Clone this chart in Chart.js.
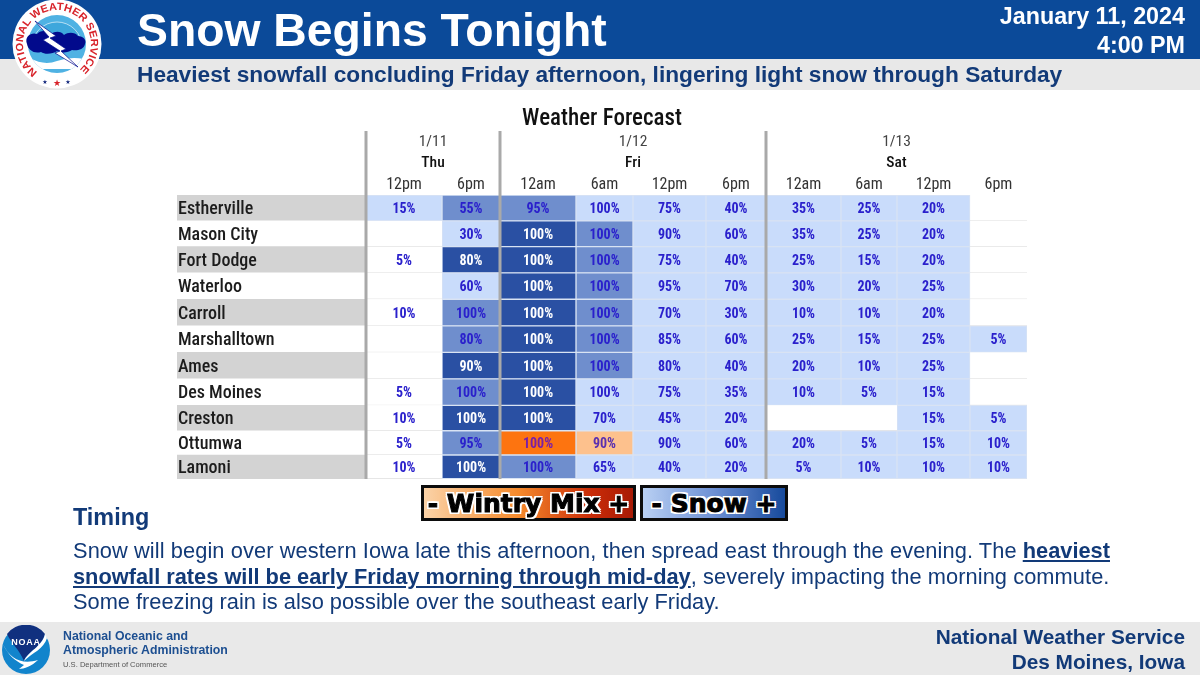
<!DOCTYPE html>
<html><head><meta charset="utf-8">
<script src="https://cdn.jsdelivr.net/npm/chart.js@4"></script>
<style>
html,body{margin:0;padding:0;background:#fff;width:1200px;height:675px;overflow:hidden;font-family:"Liberation Sans",Arial,sans-serif}
.abs{position:absolute;white-space:nowrap}
#hdr{left:0;top:0;width:1200px;height:59px;background:#0b4a99}
#sub{left:0;top:59px;width:1200px;height:31px;background:#e8e8e8}
#ftr{left:0;top:622px;width:1200px;height:53px;background:#e9e9e9}
canvas{position:absolute;left:0;top:0}
.navy{color:#123a78}
.legend{top:485px;height:30px;border:3px solid #0c0c0c;display:flex;align-items:center;justify-content:center;font:700 25px "DejaVu Sans",sans-serif;color:#000;-webkit-text-stroke:1px #000;text-shadow:2px 0 #fff,-2px 0 #fff,0 2px #fff,0 -2px #fff,2px 2px #fff,-2px -2px #fff,2px -2px #fff,-2px 2px #fff;box-sizing:content-box}
</style></head>
<body>
<div class="abs" id="hdr"></div><div class="abs" id="sub"></div><div class="abs" id="ftr"></div>
<canvas id="c" width="1200" height="675"></canvas>

<div class="abs" style="left:137px;top:1px;font-size:46.3px;line-height:58px;font-weight:700;color:#fff">Snow Begins Tonight</div>
<div class="abs navy" style="left:137px;top:60px;font-size:22.7px;line-height:28px;font-weight:700">Heaviest snowfall concluding Friday afternoon, lingering light snow through Saturday</div>
<div class="abs" style="right:15px;top:2px;font-size:23.3px;line-height:29px;font-weight:700;color:#fff;text-align:right">January 11, 2024<br>4:00 PM</div>

<div class="abs legend" style="left:421px;width:209px;background:linear-gradient(90deg,#fbd3a8,#f58a2c 45%,#c92c08 80%,#a81a05)">- Wintry Mix +</div>
<div class="abs legend" style="left:640px;width:142px;background:linear-gradient(90deg,#b9d0f3,#6d90d4 50%,#174a9c)">- Snow +</div>

<div class="abs navy" style="left:73px;top:503px;font-size:23.4px;line-height:28px;font-weight:700">Timing</div>
<div class="abs navy" style="left:73px;top:538px;font-size:21.8px;line-height:25.5px"><span style="letter-spacing:.09px">Snow will begin over western Iowa late this afternoon, then spread east through the evening. The</span> <b><u>heaviest</u></b><br><b><u>snowfall rates will be early Friday morning through mid-day</u></b><span style="letter-spacing:.08px">, severely impacting the morning commute.</span><br>Some freezing rain is also possible over the southeast early Friday.</div>

<div class="abs navy" style="right:15px;top:625px;font-size:20.8px;line-height:24.5px;font-weight:700;text-align:right">National Weather Service<br>Des Moines, Iowa</div>
<div class="abs" style="left:63px;top:630px;font-size:12.3px;line-height:13.5px;font-weight:700;color:#1d4f91">National Oceanic and<br>Atmospheric Administration</div>
<div class="abs" style="left:63px;top:660px;font-size:7.6px;line-height:10px;color:#555">U.S. Department of Commerce</div>

<svg class="abs" style="left:0;top:0" width="115" height="92" viewBox="0 0 115 92">
  <defs><path id="arcT" d="M37.5 71.9 A34 34 0 1 1 76.5 71.9"/><clipPath id="inner"><circle cx="57" cy="44" r="29"/></clipPath></defs>
  <circle cx="57" cy="44" r="44.5" fill="#fff"/>
  <circle cx="57" cy="44" r="29" fill="#4fb2e3"/>
  <path d="M32 47a25 25 0 0 1 50 0z" fill="#3ea7dc" stroke="#fff" stroke-width=".6"/>
  <g clip-path="url(#inner)"><path d="M30 58 q14 8 27 3 q14-5 27-2 v10 h-54z" fill="#fff"/></g>
  <path d="M27 44c-3-8 5-12 10-10 3-4 10-4 14 0 4-3 10-3 13 1 4-3 11-3 14 1 5 0 9 4 7 8-1 6-9 7-13 6-4 3-11 3-15 1-4 3-12 4-16 1-7 2-13-2-14-8z" fill="#020a8c"/>
  <path d="M35 21 L56 36 L50 38 L66 49 L61 51 L78 67 L55 53 L60 51 L43 40 L49 37z" fill="#fff" stroke="#020a8c" stroke-width=".7"/>
  <text font-family="Liberation Sans" font-weight="700" font-size="10.5" fill="#d8232a"><textPath href="#arcT" textLength="168" lengthAdjust="spacingAndGlyphs">NATIONAL WEATHER SERVICE</textPath></text>
  <text x="57" y="86" text-anchor="middle" font-size="9" fill="#d8232a" font-family="DejaVu Sans">★</text>
  <text x="45" y="84" text-anchor="middle" font-size="6" fill="#12277c" font-family="DejaVu Sans">★</text>
  <text x="68" y="84" text-anchor="middle" font-size="6" fill="#12277c" font-family="DejaVu Sans">★</text>
</svg>
<svg class="abs" style="left:0;top:625px" width="52" height="50" viewBox="0 0 52 50">
  <circle cx="26" cy="25" r="24" fill="#1184cc"/>
  <path d="M7 9 A24 24 0 0 1 45 9 C42 22 28 26 24 36 C19 24 11 18 7 9z" fill="#10307f"/>
  <path d="M3 19 C10 34 22 40 38 35 C32 41 24 44 19 44 L24 40 C15 36 8 30 3 19z" fill="#fff"/>
  <path d="M24 36 C28 26 42 22 45 9 L47 13 C44 24 32 28 24 36z" fill="#fff"/>
  <text x="26" y="20" text-anchor="middle" fill="#fff" font-family="Liberation Sans" font-weight="700" font-size="9" letter-spacing=".8">NOAA</text>
</svg>

<script>
const cities = ["Estherville","Mason City","Fort Dodge","Waterloo","Carroll","Marshalltown","Ames","Des Moines","Creston","Ottumwa","Lamoni"];
const timeSlots = ["12pm","6pm","12am","6am","12pm","6pm","12am","6am","12pm","6pm"];
const dates = ["1/11","1/12","1/13"];
const days = ["Thu","Fri","Sat"];
const slotsPerDay = [2,4,4];

// Chance of precipitation, one row per city
const chance = [
  [15,55,95,100,75,40,35,25,20,null],
  [null,30,100,100,90,60,35,25,20,null],
  [5,80,100,100,75,40,25,15,20,null],
  [null,60,100,100,95,70,30,20,25,null],
  [10,100,100,100,70,30,10,10,20,null],
  [null,80,100,100,85,60,25,15,25,5],
  [null,90,100,100,80,40,20,10,25,null],
  [5,100,100,100,75,35,10,5,15,null],
  [10,100,100,70,45,20,null,null,15,5],
  [5,95,100,90,90,60,20,5,15,10],
  [10,100,100,65,40,20,5,10,10,10]
];
// Intensity class: 0 none, 1 light snow, 2 moderate snow, 3 heavy snow, 4 heavy mix, 5 light mix
const intensity = [
  [1,2,2,1,1,1,1,1,1,0],
  [0,1,3,2,1,1,1,1,1,0],
  [0,3,3,2,1,1,1,1,1,0],
  [0,1,3,2,1,1,1,1,1,0],
  [0,2,3,2,1,1,1,1,1,0],
  [0,2,3,2,1,1,1,1,1,1],
  [0,3,3,2,1,1,1,1,1,0],
  [0,2,3,1,1,1,1,1,1,0],
  [0,3,3,1,1,1,0,0,1,1],
  [0,2,4,5,1,1,1,1,1,1],
  [0,3,2,1,1,1,1,1,1,1]
];

// Layout of the uneven table
const labelColumnWidth = 189;
const columnWidths = [76,58,76,57,73,60,75,56,73,57];
const rowHeights = [26,25.5,26.5,26.3,26.7,26.7,26.3,26.7,26,23.3,24.3];
const textNudge = 1.5;
const fills = ["#ffffff","#c9dcfb","#6f8ecd","#2a50a3","#fd7410","#fdc18d"];
const inks = ["#2a20cc","#2a20cc","#2a20cc","#ffffff","#7a1fa8","#5a30b0"];

const edges = columnWidths.reduce((a,w)=>(a.push(a[a.length-1]+w),a),[0]);
const centres = columnWidths.map((w,i)=>edges[i]+w/2);
const rowEdges = rowHeights.reduce((a,h)=>(a.push(a[a.length-1]+h),a),[0]);
const rowCentres = rowHeights.map((h,i)=>rowEdges[i]+h/2);
const tableWidth = edges[edges.length-1], tableHeight = rowEdges[rowEdges.length-1];

const bandDataset = {
  label:"Location", stack:"table", data:rowCentres.map(y=>({x:[-labelColumnWidth,0],y})),
  backgroundColor:c=>c.dataIndex%2===0?"#d3d3d3":"#ffffff", borderWidth:0
};
const slotDatasets = timeSlots.map((t,j)=>({
  label:t, stack:"table",
  data:rowCentres.map((y,i)=>({x:[edges[j],edges[j+1]],y,chance:chance[i][j],level:intensity[i][j]})),
  backgroundColor:c=>c.raw?fills[c.raw.level]:fills[0],
  borderColor:c=>(c.raw&&c.raw.level===0)?"#e6e6e6":"#d9e3f3",
  borderWidth:c=>(c.raw&&c.raw.level===0)?{top:0,bottom:1,left:0,right:0}:1,
  borderSkipped:false
}));

const tableText = {
  id:"tableText",
  afterDatasetsDraw(chart){
    const {ctx,scales:{x,y}} = chart;
    ctx.save();
    ctx.textAlign="center"; ctx.textBaseline="middle";
    ctx.font='condensed 700 14px Roboto';
    slotDatasets.forEach((d,j)=>{
      d.data.forEach((cell,i)=>{
        if(cell.chance===null) return;
        ctx.fillStyle=inks[cell.level];
        ctx.fillText(cell.chance+"%",x.getPixelForValue(centres[j]),y.getPixelForValue(rowCentres[i]+textNudge));
      });
    });
    // day separators and day headers
    let slot=0;
    slotsPerDay.forEach((n,k)=>{
      const px=x.getPixelForValue(edges[slot]);
      ctx.fillStyle="#a9a9a9"; ctx.fillRect(px-1.5,131,3,chart.chartArea.bottom-131);
      const mid=x.getPixelForValue((edges[slot]+edges[slot+n])/2);
      ctx.fillStyle="#444"; ctx.font='condensed 400 15.5px Roboto';
      ctx.fillText(dates[k],mid,142);
      ctx.fillStyle="#111"; ctx.font='condensed 500 15.5px Roboto';
      ctx.fillText(days[k],mid,163);
      slot+=n;
    });
    ctx.restore();
  }
};

new Chart(document.getElementById("c"),{
  type:"bar",
  data:{datasets:[bandDataset,...slotDatasets]},
  plugins:[tableText],
  options:{
    indexAxis:"y", responsive:false, animation:false, devicePixelRatio:1,
    layout:{padding:{left:177,right:173,top:0,bottom:196}},
    datasets:{bar:{barThickness:"flex",categoryPercentage:1,barPercentage:1}},
    plugins:{
      legend:{display:false}, tooltip:{enabled:false},
      title:{display:true,text:"Weather Forecast",color:"#111",fullSize:false,
        font:{family:"Roboto",size:23,weight:"condensed 500",lineHeight:1.2},padding:{top:105,bottom:2}}
    },
    scales:{
      x:{type:"linear",position:"top",stacked:false,min:-labelColumnWidth,max:tableWidth,
        grid:{display:false,drawTicks:false},border:{display:false},
        afterBuildTicks:s=>{s.ticks=centres.map(value=>({value}));},
        afterFit:s=>{s.height=60.4;},
        ticks:{autoSkip:false,maxRotation:0,padding:0,color:"#333",
          font:{family:"Roboto",size:16,weight:"condensed 400"},
          callback:(v,i)=>timeSlots[i]}},
      y:{type:"linear",position:"left",reverse:true,offset:false,min:0,max:tableHeight,
        grid:{display:false,drawTicks:false},border:{display:false},
        afterBuildTicks:s=>{s.ticks=rowCentres.map(value=>({value:value+textNudge}));},
        afterFit:s=>{s.width=0;},
        ticks:{autoSkip:false,mirror:true,padding:1,z:1,color:"#1c1c1c",
          font:{family:"Roboto",size:18,weight:"condensed 500"},
          callback:(v,i)=>cities[i]}}
    }
  }
});
</script>
</body></html>
